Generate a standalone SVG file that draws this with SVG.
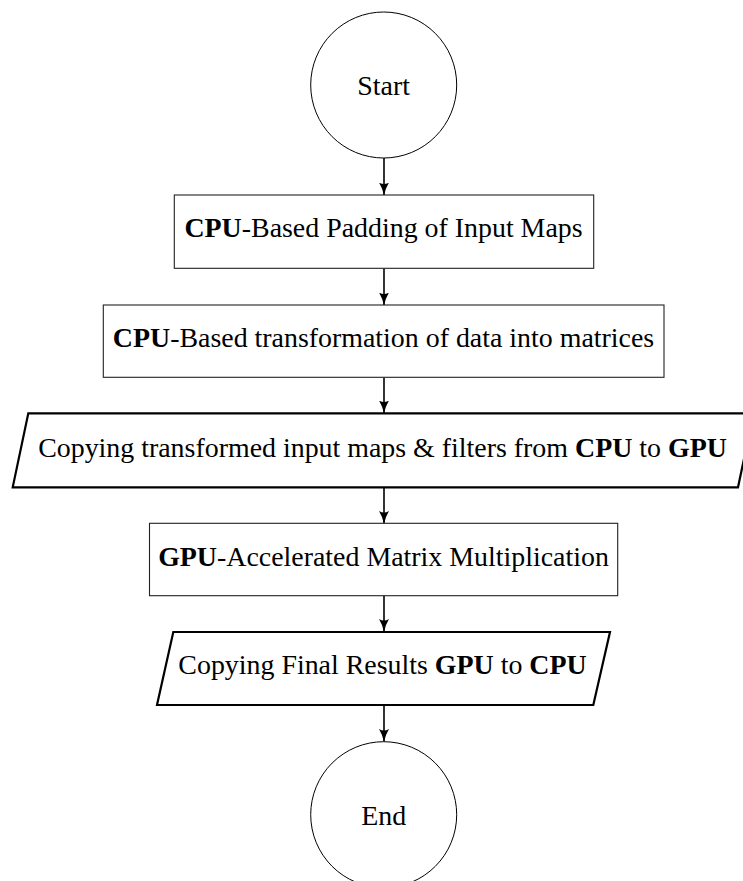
<svg xmlns="http://www.w3.org/2000/svg" width="743" height="881" viewBox="0 0 743 881">
<style>
  .t { font-family: "Liberation Serif", "Times New Roman", serif; font-size: 27.9px; fill: #000; text-anchor: middle; }
  .b { font-weight: bold; }
  .box { fill: #fff; stroke: #222; stroke-width: 1.1; }
  .circ { fill: #fff; stroke: #000; stroke-width: 1; }
  .io { fill: #fff; stroke: #000; stroke-width: 2.2; stroke-linejoin: miter; }
  .conn { stroke: #000; stroke-width: 1.6; fill: none; marker-end: url(#arr); }
</style>
<defs>
  <marker id="arr" markerUnits="userSpaceOnUse" viewBox="0 0 12 10" markerWidth="13" markerHeight="11" refX="11.5" refY="5" orient="auto">
    <path d="M0,0.4 Q6,4 12,5 Q6,6 0,9.6 Q2.8,5 0,0.4 Z" fill="#000"/>
  </marker>
</defs>
<rect width="743" height="881" fill="#fff"/>
<g id="connectors">
  <line class="conn" x1="384" y1="158" x2="384" y2="195"/>
  <line class="conn" x1="384" y1="268.5" x2="384" y2="305"/>
  <line class="conn" x1="384" y1="377.5" x2="384" y2="413"/>
  <line class="conn" x1="384" y1="487.5" x2="384" y2="523.5"/>
  <line class="conn" x1="384" y1="596" x2="384" y2="631.5"/>
  <line class="conn" x1="384" y1="705.5" x2="384" y2="741.5"/>
</g>
<g id="start">
  <circle class="circ" cx="383.7" cy="85" r="73"/>
  <text class="t" x="383.7" y="95">Start</text>
</g>
<g id="padding">
  <rect class="box" x="174.3" y="195" width="419.4" height="73.3"/>
  <text class="t" x="383.5" y="237"><tspan class="b">CPU</tspan>-Based Padding of Input Maps</text>
</g>
<g id="transform">
  <rect class="box" x="103.3" y="305" width="560.7" height="72.3"/>
  <text class="t" x="383.5" y="347"><tspan class="b">CPU</tspan>-Based transformation of data into matrices</text>
</g>
<g id="copy-in">
  <polygon class="io" points="28.3,413.3 753.6,413.3 738,487.3 12.7,487.3"/>
  <text class="t" x="382.5" y="456.5">Copying transformed input maps &amp; filters from <tspan class="b">CPU</tspan> to <tspan class="b">GPU</tspan></text>
</g>
<g id="matmul">
  <rect class="box" x="149.5" y="523.3" width="468.2" height="72.4"/>
  <text class="t" x="383.5" y="565.5"><tspan class="b">GPU</tspan>-Accelerated Matrix Multiplication</text>
</g>
<g id="copy-out">
  <polygon class="io" points="173.3,632 610,632 593.3,705 157,705"/>
  <text class="t" x="382.5" y="674">Copying Final Results <tspan class="b">GPU</tspan> to <tspan class="b">CPU</tspan></text>
</g>
<g id="end">
  <circle class="circ" cx="383.7" cy="814.7" r="73"/>
  <text class="t" x="383.7" y="824.5">End</text>
</g>
</svg>
